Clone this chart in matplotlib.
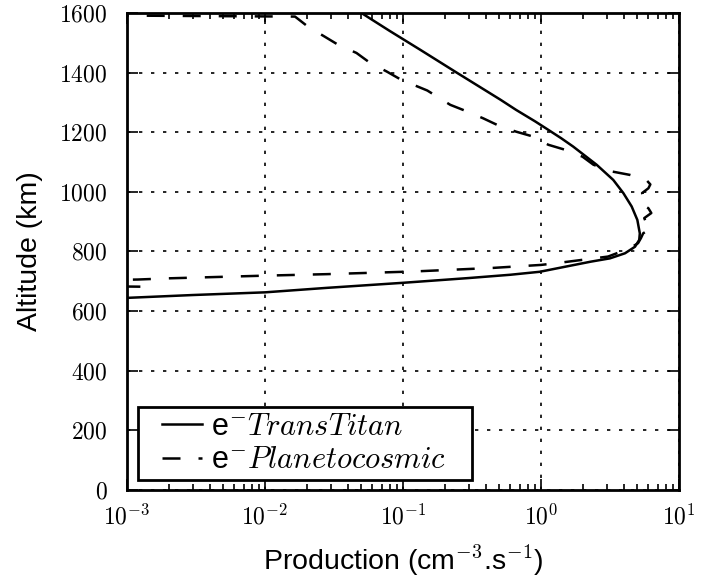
import matplotlib
matplotlib.use("Agg")
import matplotlib.pyplot as plt
from matplotlib.ticker import FuncFormatter, LogLocator
from matplotlib.legend_handler import HandlerLine2D
from matplotlib.lines import Line2D
import numpy as np

# --- data ---
trans_alt = [644, 654, 663, 678, 695, 711, 722, 732, 749, 766, 777, 794, 816, 839, 861,
             906, 951, 996, 1040, 1091, 1152, 1180, 1208, 1236, 1275, 1309, 1400, 1476,
             1540, 1600]
trans_val = [0.00095, 0.003, 0.01, 0.028, 0.1, 0.3, 0.6, 0.98, 1.5, 2.3, 3.16, 4.06,
             4.8, 5.15, 5.2, 4.99, 4.54, 3.95, 3.34, 2.53, 1.71, 1.40, 1.13, 0.91, 0.66,
             0.509, 0.245, 0.134, 0.08, 0.05]

plan_alt = [682, 684, 703, 706, 710, 719, 724, 733, 745, 755, 761, 783, 811, 828, 845,
            861, 878, 895, 912, 929, 945, 962, 980, 996, 1012, 1025, 1040, 1057, 1068,
            1091, 1118, 1141, 1158, 1186, 1202, 1221, 1247, 1270, 1292, 1340, 1376,
            1404, 1432, 1466, 1493, 1521, 1554, 1588, 1594]
plan_val = [0.00125, 0.0005, 0.0005, 0.0012, 0.002, 0.01, 0.028, 0.12, 0.45, 1.0, 1.3,
            3.06, 4.42, 5.05, 5.3, 5.5, 6.3, 5.8, 5.6, 6.3, 6.0, 5.3, 5.6, 5.4, 6.0,
            6.2, 5.8, 4.4, 3.3, 2.4, 2.0, 1.5, 1.13, 0.87, 0.66, 0.5, 0.38, 0.29, 0.22,
            0.15, 0.097, 0.076, 0.058, 0.046, 0.034, 0.027, 0.0205, 0.0165, 0.0001]

xlim = (1e-3, 1e1)
ylim = (0, 1600)
yticks = [0, 200, 400, 600, 800, 1000, 1200, 1400, 1600]
xlabel = "Production (cm$^{-3}$.s$^{-1}$)"
ylabel = "Altitude (km)"
label_trans = r"e$^{-}$$TransTitan$"
label_plan = r"e$^{-}$$Planetocosmic$"

plt.rcParams['mathtext.fontset'] = 'cm'
plt.rcParams['font.family'] = ['Liberation Sans', 'DejaVu Sans']

fig = plt.figure(figsize=(7.09, 5.83), dpi=100)
ax = fig.add_axes([127/709, 1-490/583, (679-127)/709, (490-13)/583])

ax.plot(trans_val, trans_alt, color='black', lw=1.8, ls='-', label=label_trans)
ax.plot(plan_val, plan_alt, color='black', lw=1.8, ls=(0, (7.2, 7.2)), label=label_plan)

ax.set_xscale('log')
ax.set_xlim(*xlim)
ax.set_ylim(*ylim)
ax.set_yticks(yticks)
ax.xaxis.set_major_locator(LogLocator(base=10, numticks=10))
ax.xaxis.set_minor_locator(LogLocator(base=10, subs=np.arange(2, 10), numticks=100))
ax.xaxis.set_major_formatter(FuncFormatter(lambda v, p: r"$10^{%d}$" % int(round(np.log10(v)))))
ax.yaxis.set_major_formatter(FuncFormatter(lambda v, p: r"$%d$" % int(v)))

ax.tick_params(which='both', direction='in', top=True, right=True, labelsize=17, width=1.2)
ax.tick_params(which='major', length=8)
ax.tick_params(axis='x', which='major', pad=10)
ax.tick_params(axis='y', which='major', pad=14)
ax.tick_params(which='minor', length=4)

ax.grid(True, which='major', color='black', ls=(0, (2, 5.2)), lw=1.2)

for s in ax.spines.values():
    s.set_linewidth(2)

ax.set_xlabel(xlabel, fontsize=20.5, labelpad=10)
ax.set_ylabel(ylabel, fontsize=20.5, labelpad=12)

leg = ax.legend(loc='lower left', fontsize=22, fancybox=False, framealpha=1,
                edgecolor='black', handlelength=1.95, borderpad=0.15, labelspacing=0.12,
                handletextpad=0.3, borderaxespad=0.0, mode='expand',
                bbox_to_anchor=(11/552, 10/477, 334/552, 0.2),
                handler_map={Line2D: HandlerLine2D(xpad=0.62)})
leg.get_frame().set_linewidth(2)

fig.savefig("out.png", dpi=100)
